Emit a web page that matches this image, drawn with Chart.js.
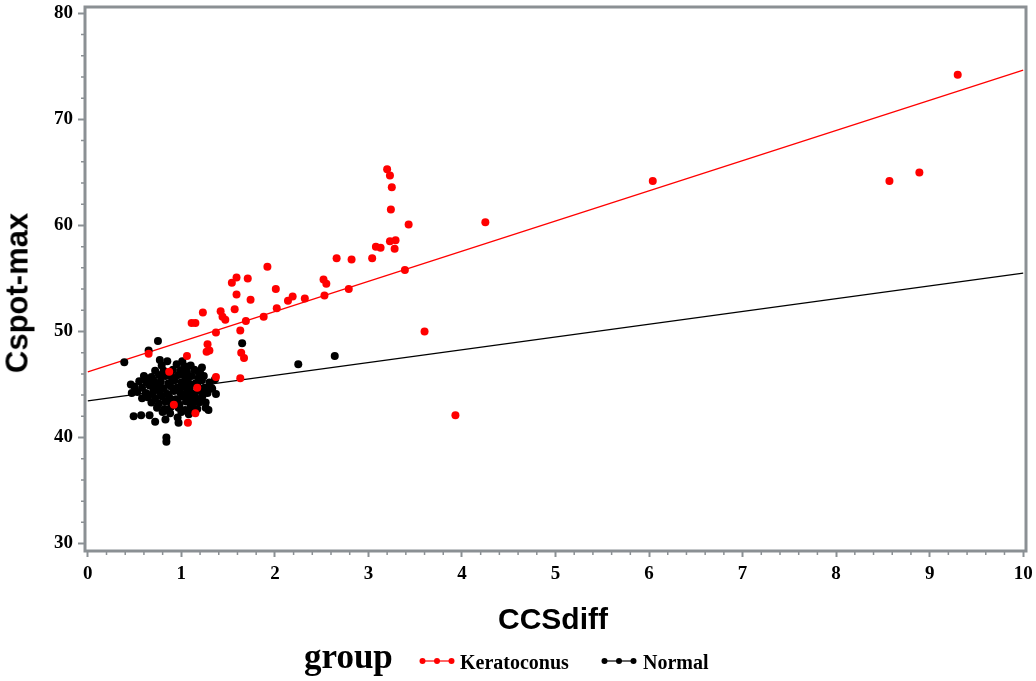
<!DOCTYPE html>
<html lang="en">
<head>
  <meta charset="UTF-8" />
  <title>Cspot-max vs CCSdiff</title>
  <script src="https://cdn.jsdelivr.net/npm/chart.js"></script>
  <style>
    html, body { margin: 0; padding: 0; background: #fff; }
    #wrap { position: relative; width: 1036px; height: 681px; }
    #chart { position: absolute; left: 0; top: 0; }
    .sans { font-family: "Liberation Sans", Arial, sans-serif; font-weight: bold; line-height: 1; white-space: nowrap; position: absolute; color: #000; }
    .serif { font-family: "Liberation Serif", "Times New Roman", serif; font-weight: bold; line-height: 1; white-space: nowrap; position: absolute; color: #000; }
    #ytitle { font-size: 31px; left: 17px; top: 293px; transform: translate(-50%, -50%) rotate(-90deg); }
    #xtitle { font-size: 30px; left: 553px; top: 604px; transform: translateX(-50%); }
    #group { font-size: 35px; left: 304px; top: 639px; }
    .lab { font-size: 20px; top: 652px; }
    .mark { position: absolute; top: 656px; }
  </style>
</head>
<body>
<div id="wrap">
  <canvas id="chart" width="1036" height="681"></canvas>
  <div id="ytitle" class="sans">Cspot-max</div>
  <div id="xtitle" class="sans">CCSdiff</div>
  <div id="group" class="serif">group</div>
  <svg class="mark" style="left:419px" width="36" height="10">
    <line x1="2" y1="5" x2="34" y2="5" stroke="#ff0000" stroke-width="1.2"/>
    <circle cx="3.5" cy="5" r="3" fill="#ff0000"/><circle cx="18" cy="5" r="3" fill="#ff0000"/><circle cx="32.5" cy="5" r="3" fill="#ff0000"/>
  </svg>
  <div class="serif lab" style="left:460px">Keratoconus</div>
  <svg class="mark" style="left:601px" width="36" height="10">
    <line x1="2" y1="5" x2="34" y2="5" stroke="#000" stroke-width="1.2"/>
    <circle cx="3.5" cy="5" r="3" fill="#000"/><circle cx="18" cy="5" r="3" fill="#000"/><circle cx="32.5" cy="5" r="3" fill="#000"/>
  </svg>
  <div class="serif lab" style="left:643px">Normal</div>
</div>

<script>
  // tick values
  const xTicks = [0, 1, 2, 3, 4, 5, 6, 7, 8, 9, 10];
  const yTicks = [30, 40, 50, 60, 70, 80];

  // [CCSdiff, Cspot-max] per eye
  const keratoconusPoints = [
    [3.20, 65.3], [3.23, 64.7], [3.25, 63.6], [3.24, 61.5], [3.43, 60.1], [3.08, 58.0], [3.13, 57.9],
    [3.23, 58.5], [3.29, 58.6], [3.28, 57.8], [3.04, 56.9], [2.82, 56.8], [2.66, 56.9], [3.39, 55.8],
    [3.60, 50.0], [2.52, 54.9], [2.55, 54.5], [2.79, 54.0], [2.53, 53.4], [2.32, 53.1], [2.19, 53.3],
    [2.14, 52.9], [2.01, 54.0], [2.02, 52.2], [1.88, 51.4], [1.92, 56.1], [1.71, 55.0], [1.59, 55.1],
    [1.54, 54.6], [1.59, 53.5], [1.74, 53.0], [1.57, 52.1], [1.42, 51.9], [1.44, 51.4], [1.47, 51.1],
    [1.69, 51.0], [1.23, 51.8], [1.11, 50.8], [1.15, 50.8], [1.37, 49.9], [1.63, 50.1], [1.28, 48.8],
    [1.27, 48.1], [1.30, 48.2], [1.64, 48.0], [1.67, 47.5], [1.06, 47.7], [1.63, 45.6], [1.37, 45.7],
    [3.93, 42.1], [4.25, 60.3], [6.04, 64.2], [8.57, 64.2], [8.89, 65.0], [9.30, 74.2],
    [0.65, 47.9], [0.87, 46.2], [1.17, 44.7], [1.15, 42.3], [1.07, 41.4], [0.92, 43.1]
  ];

  const normalPoints = [
    [0.39, 47.1], [0.65, 48.2], [0.75, 49.1], [1.65, 48.9], [2.25, 46.9], [2.64, 47.7], [0.84, 40.0],
    [0.84, 39.6], [1.36, 45.5], [1.32, 44.7], [1.37, 44.1], [1.33, 44.6], [0.46, 45.0], [0.47, 44.2],
    [0.58, 43.7], [0.49, 42.0], [0.57, 42.1], [0.66, 42.1], [0.72, 41.5], [0.83, 41.7], [0.97, 41.4],
    [0.96, 41.9], [1.12, 42.5], [1.26, 42.8], [1.29, 42.6], [1.26, 43.3], [1.23, 44.0], [1.22, 43.6],
    [0.77, 47.3], [0.85, 47.2], [1.01, 47.2], [1.05, 46.7], [1.22, 46.6], [1.24, 45.8], [1.18, 46.2],
    [0.79, 46.8], [0.95, 46.9], [1.03, 46.7], [1.10, 46.8],
    [0.72, 46.3], [0.81, 46.3], [0.91, 46.4], [0.99, 46.3], [1.06, 46.2], [1.14, 46.4], [1.20, 46.1],
    [0.60, 45.8], [0.68, 45.7], [0.76, 45.9], [0.83, 45.8], [0.90, 45.6], [0.97, 45.9], [1.04, 45.7],
    [1.11, 45.8], [1.18, 45.6],
    [0.55, 45.3], [0.63, 45.2], [0.70, 45.4], [0.78, 45.3], [0.86, 45.1], [0.93, 45.4], [1.00, 45.2],
    [1.07, 45.3], [1.15, 45.1], [1.22, 45.4], [1.30, 45.2],
    [0.50, 44.8], [0.58, 44.7], [0.66, 44.9], [0.73, 44.8], [0.81, 44.6], [0.88, 44.9], [0.95, 44.7],
    [1.02, 44.8], [1.09, 44.6], [1.17, 44.9], [1.25, 44.7],
    [0.53, 44.3], [0.62, 44.2], [0.70, 44.4], [0.77, 44.3], [0.85, 44.1], [0.92, 44.4], [0.99, 44.2],
    [1.06, 44.3], [1.13, 44.1], [1.20, 44.4], [1.28, 44.2],
    [0.64, 43.8], [0.72, 43.7], [0.79, 43.9], [0.87, 43.8], [0.94, 43.6], [1.01, 43.9], [1.08, 43.7],
    [1.15, 43.8], [1.18, 43.5],
    [0.68, 43.3], [0.76, 43.2], [0.83, 43.4], [0.90, 43.3], [0.98, 43.1], [1.05, 43.4], [1.12, 43.2],
    [1.19, 43.3],
    [0.74, 42.8], [0.82, 42.7], [0.89, 42.9], [0.97, 42.8], [1.04, 42.6], [1.10, 42.9], [1.17, 42.7],
    [0.80, 42.4], [0.88, 42.3], [1.00, 42.4], [1.08, 42.2],
    [0.62, 45.6], [0.74, 45.1], [0.89, 45.9], [1.09, 45.0], [0.69, 44.1], [0.96, 43.5], [1.12, 43.9],
    [0.86, 42.6], [0.79, 44.7], [1.00, 46.0]
  ];

  // fitted lines, end points at CCSdiff = 0 and 10
  const keratoconusFit = [[0, 46.2], [10, 74.65]];
  const normalFit = [[0, 43.45], [10, 55.5]];

  const RED = '#ff0000';
  const AXIS_GRAY = '#8b9094';
  const toXY = arr => arr.map(([x, y]) => ({ x, y }));

  // frame around plot area + minor ticks
  const framePlugin = {
    id: 'frame',
    afterDraw(chart) {
      const { ctx, chartArea: a, scales: { x, y } } = chart;
      ctx.save();
      ctx.strokeStyle = AXIS_GRAY;
      ctx.lineWidth = 1.5;
      ctx.beginPath();
      for (let i = 0; i < xTicks.length - 1; i++) {
        for (let k = 1; k < 5; k++) {
          const px = x.getPixelForValue(xTicks[i] + k * 0.2);
          ctx.moveTo(px, a.bottom);
          ctx.lineTo(px, a.bottom + 4);
        }
      }
      for (let i = 0; i < yTicks.length - 1; i++) {
        for (let k = 1; k < 5; k++) {
          const py = y.getPixelForValue(yTicks[i] + k * 2);
          ctx.moveTo(a.left, py);
          ctx.lineTo(a.left - 4, py);
        }
      }
      ctx.stroke();
      ctx.lineWidth = 3;
      ctx.strokeRect(a.left, a.top, a.right - a.left, a.bottom - a.top);
      ctx.restore();
    }
  };

  const tickFont = { family: '"Liberation Serif", "Times New Roman", serif', weight: 'bold', size: 19 };

  new Chart(document.getElementById('chart'), {
    type: 'scatter',
    data: {
      datasets: [
        {
          label: 'Keratoconus',
          data: toXY(keratoconusPoints),
          backgroundColor: RED,
          borderWidth: 0,
          pointRadius: 4,
          order: 0
        },
        {
          label: 'Normal',
          data: toXY(normalPoints),
          backgroundColor: '#000',
          borderWidth: 0,
          pointRadius: 4,
          order: 1
        },
        {
          label: 'Keratoconus fit',
          data: toXY(keratoconusFit),
          showLine: true,
          borderColor: RED,
          borderWidth: 1.3,
          pointRadius: 0,
          order: 2
        },
        {
          label: 'Normal fit',
          data: toXY(normalFit),
          showLine: true,
          borderColor: '#000',
          borderWidth: 1.3,
          pointRadius: 0,
          order: 3
        }
      ]
    },
    options: {
      responsive: false,
      animation: false,
      devicePixelRatio: 1,
      layout: { padding: { top: 7, right: 10, bottom: 35, left: 0 } },
      plugins: {
        legend: { display: false },
        tooltip: { enabled: false }
      },
      scales: {
        x: {
          type: 'linear',
          min: -0.03,
          max: 10.03,
          afterBuildTicks: s => { s.ticks = xTicks.map(v => ({ value: v })); },
          afterFit: s => { s.height = 95; s.paddingLeft = 0; s.paddingRight = 0; },
          border: { display: false },
          grid: { drawOnChartArea: false, drawTicks: true, tickLength: 6, tickColor: AXIS_GRAY, tickWidth: 2 },
          ticks: { color: '#000', font: tickFont, padding: 6, maxRotation: 0, callback: v => String(v) }
        },
        y: {
          type: 'linear',
          min: 29.3,
          max: 80.6,
          afterBuildTicks: s => { s.ticks = yTicks.map(v => ({ value: v })); },
          afterFit: s => { s.width = 85; s.paddingTop = 0; s.paddingBottom = 0; },
          border: { display: false },
          grid: { drawOnChartArea: false, drawTicks: true, tickLength: 7, tickColor: AXIS_GRAY, tickWidth: 2 },
          ticks: { color: '#000', font: tickFont, padding: 5, callback: v => String(v) }
        }
      }
    },
    plugins: [framePlugin]
  });
</script>
</body>
</html>
